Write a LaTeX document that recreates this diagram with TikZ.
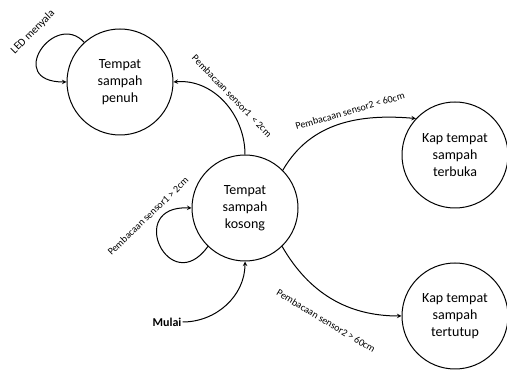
\documentclass[tikz,border=0pt]{standalone}
\usepackage{fontspec}
\setmainfont{Carlito}
\usetikzlibrary{positioning}

\begin{document}
\begin{tikzpicture}[
    x=1pt, y=1pt,
    state/.style={circle, draw, line width=1pt, minimum size=106pt, inner sep=1pt, align=center, font=\fontsize{14}{17}\selectfont},
    arrow/.style={->, line width=1pt, >=stealth},
    label/.style={font=\fontsize{10}{12}\selectfont, inner sep=1pt}
  ]
  \useasboundingbox (0,0) rectangle (507,370);

  \node[state] (penuh)    at (120,288) {Tempat\\sampah\\penuh};
  \node[state] (kosong)   at (245,162) {Tempat\\sampah\\kosong};
  \node[state] (terbuka)  at (455,215) {Kap tempat\\sampah\\terbuka};
  \node[state] (tertutup) at (455,54)  {Kap tempat\\sampah\\tertutup};
  \node[font=\fontsize{12}{14}\selectfont\bfseries, inner sep=1pt] (mulai) at (167,48) {Mulai};

  \draw[arrow] (penuh.132) .. controls +(-30,32) and +(-62,0) .. (penuh.west);
  \draw[arrow] (kosong.north) to[out=90, in=5] (penuh.east);
  \draw[arrow] (kosong.45) to[out=60, in=175] (terbuka.137);
  \draw[arrow] (kosong.226) .. controls +(-38,-53) and +(-67,3) .. (kosong.west);
  \draw[arrow] (mulai.east) to[out=0, in=-90] (kosong.south);
  \draw[arrow] (kosong.-46) to[out=-60, in=180] (tertutup.west);

  \node[label, rotate=45, font=\fontsize{11}{13}\selectfont] (ledlbl) at (33,338) {LED menyala};
  \node[label, rotate=-46] (s1kecil) at (232,274) {Pembacaan sensor1 \,< 2cm};
  \node[label, rotate=16]  (s2kecil) at (350,259) {Pembacaan sensor2 < 60cm};
  \node[label, rotate=44]  (s1besar) at (148,154) {Pembacaan sensor1 > 2cm};
  \node[label, rotate=-31] (s2besar) at (326,49)  {Pembacaan sensor2 > 60cm};
\end{tikzpicture}
\end{document}
